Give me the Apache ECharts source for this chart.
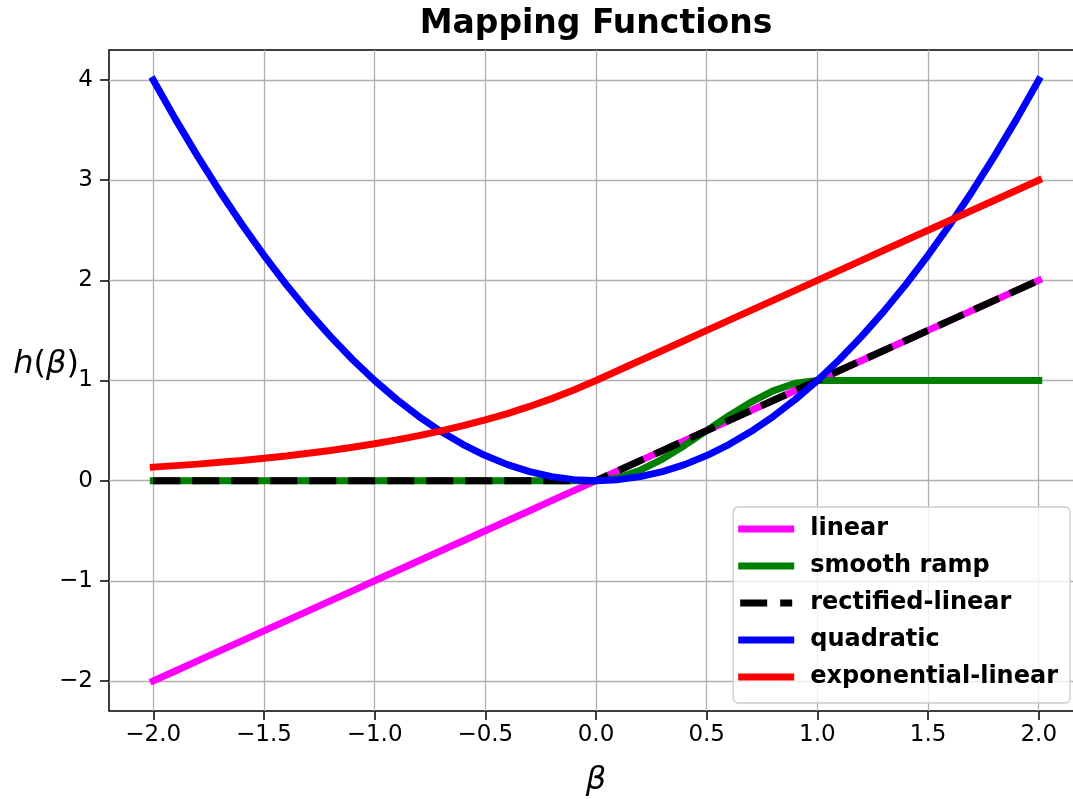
<!DOCTYPE html>
<html>
<head>
<meta charset="utf-8">
<title>Mapping Functions</title>
<script src="https://cdn.jsdelivr.net/npm/echarts@6/dist/echarts.min.js"></script>
<style>
  html, body { margin: 0; padding: 0; background: #fff; overflow: hidden; }
  #chart { width: 1100px; height: 799px; }
</style>
</head>
<body>
<div id="chart"></div>
<script>
// sample points along beta
const betas = [
  -2.0, -1.9, -1.8, -1.7, -1.6, -1.5, -1.4, -1.3, -1.2, -1.1,
  -1.0, -0.9, -0.8, -0.7, -0.6, -0.5, -0.4, -0.3, -0.2, -0.1,
  0.0, 0.1, 0.2, 0.3, 0.4, 0.5, 0.6, 0.7, 0.8, 0.9,
  1.0, 1.1, 1.2, 1.3, 1.4, 1.5, 1.6, 1.7, 1.8, 1.9, 2.0
];

const linearVals = [
  -2.0, -1.9, -1.8, -1.7, -1.6, -1.5, -1.4, -1.3, -1.2, -1.1,
  -1.0, -0.9, -0.8, -0.7, -0.6, -0.5, -0.4, -0.3, -0.2, -0.1,
  0.0, 0.1, 0.2, 0.3, 0.4, 0.5, 0.6, 0.7, 0.8, 0.9,
  1.0, 1.1, 1.2, 1.3, 1.4, 1.5, 1.6, 1.7, 1.8, 1.9, 2.0
];

const smoothRampVals = [
  0, 0, 0, 0, 0, 0, 0, 0, 0, 0,
  0, 0, 0, 0, 0, 0, 0, 0, 0, 0,
  0, 0.028, 0.104, 0.216, 0.352, 0.5, 0.648, 0.784, 0.896, 0.972,
  1, 1, 1, 1, 1, 1, 1, 1, 1, 1, 1
];

const rectifiedVals = [
  0, 0, 0, 0, 0, 0, 0, 0, 0, 0,
  0, 0, 0, 0, 0, 0, 0, 0, 0, 0,
  0.0, 0.1, 0.2, 0.3, 0.4, 0.5, 0.6, 0.7, 0.8, 0.9,
  1.0, 1.1, 1.2, 1.3, 1.4, 1.5, 1.6, 1.7, 1.8, 1.9, 2.0
];

const quadraticVals = [
  4.00, 3.61, 3.24, 2.89, 2.56, 2.25, 1.96, 1.69, 1.44, 1.21,
  1.00, 0.81, 0.64, 0.49, 0.36, 0.25, 0.16, 0.09, 0.04, 0.01,
  0.00, 0.01, 0.04, 0.09, 0.16, 0.25, 0.36, 0.49, 0.64, 0.81,
  1.00, 1.21, 1.44, 1.69, 1.96, 2.25, 2.56, 2.89, 3.24, 3.61, 4.00
];

const expLinearVals = [
  0.135, 0.150, 0.165, 0.183, 0.202, 0.223, 0.247, 0.273, 0.301, 0.333,
  0.368, 0.407, 0.449, 0.497, 0.549, 0.607, 0.670, 0.741, 0.819, 0.905,
  1.0, 1.1, 1.2, 1.3, 1.4, 1.5, 1.6, 1.7, 1.8, 1.9,
  2.0, 2.1, 2.2, 2.3, 2.4, 2.5, 2.6, 2.7, 2.8, 2.9, 3.0
];

const seriesNames = ["linear", "smooth ramp", "rectified-linear", "quadratic", "exponential-linear"];
const seriesColors = ["#ff00ff", "#008000", "#000000", "#0000ff", "#ff0000"];
const seriesVals = [linearVals, smoothRampVals, rectifiedVals, quadraticVals, expLinearVals];

const xTicks = [-2.0, -1.5, -1.0, -0.5, 0.0, 0.5, 1.0, 1.5, 2.0];
const yTicks = [-2, -1, 0, 1, 2, 3, 4];

const FONT = "DejaVu Sans";
const minus = (s) => s.replace("-", "\u2212");

// legend swatches: a thick bar, and a dash-gap-dash bar for the dashed line
const solidIcon = "path://M0,0H56V7H0Z";
const dashedIcon = "path://M0,0H27V7H0Z M40,0H52V7H40Z";

const chart = echarts.init(document.getElementById("chart"), null, { renderer: "canvas" });

const option = {
  animation: false,
  backgroundColor: "#ffffff",
  title: {
    text: "Mapping Functions",
    left: 596,
    textAlign: "center",
    top: 8,
    padding: 0,
    textStyle: { fontFamily: FONT, fontSize: 33, fontWeight: "bold", color: "#000" },
  },
  grid: {
    left: 109,
    right: 17,
    top: 50,
    bottom: 88,
    outerBoundsMode: "none",
    containLabel: false,
    show: true,
    borderColor: "#000",
    borderWidth: 1.5,
    backgroundColor: "transparent",
  },
  xAxis: {
    type: "value",
    min: -2.2,
    max: 2.2,
    splitNumber: 9,
    name: "\u03b2",
    nameLocation: "middle",
    nameGap: 54,
    nameMoveOverlap: false,
    nameTextStyle: { fontFamily: FONT, fontSize: 32, fontStyle: "italic", color: "#000" },
    axisLine: { show: false, onZero: false },
    axisTick: {
      show: true,
      inside: false,
      length: 9,
      customValues: xTicks,
      lineStyle: { color: "#000", width: 1.5 },
    },
    axisLabel: {
      customValues: xTicks,
      formatter: (v) => minus(v.toFixed(1)),
      fontFamily: FONT,
      fontSize: 23,
      color: "#000",
      margin: 13,
    },
    splitLine: { show: true, lineStyle: { color: "#b0b0b0", width: 1.3 } },
  },
  yAxis: {
    type: "value",
    min: -2.3,
    max: 4.3,
    splitNumber: 7,
    name: "{it|h}({it|\u03b2})",
    nameLocation: "middle",
    nameRotate: 0,
    nameGap: 30,
    nameMoveOverlap: false,
    nameTextStyle: {
      fontFamily: FONT,
      fontSize: 32,
      color: "#000",
      verticalAlign: "bottom",
      rich: {
        it: { fontFamily: FONT, fontSize: 32, fontStyle: "italic", color: "#000" },
      },
    },
    axisLine: { show: false, onZero: false },
    axisTick: {
      show: true,
      inside: false,
      length: 9,
      customValues: yTicks,
      lineStyle: { color: "#000", width: 1.5 },
    },
    axisLabel: {
      customValues: yTicks,
      formatter: (v) => minus(String(v)),
      fontFamily: FONT,
      fontSize: 23,
      color: "#000",
      margin: 16,
    },
    splitLine: { show: true, lineStyle: { color: "#b0b0b0", width: 1.3 } },
  },
  legend: {
    orient: "vertical",
    right: 30,
    top: 507,
    backgroundColor: "rgba(255,255,255,0.8)",
    borderColor: "#cccccc",
    borderWidth: 1.3,
    borderRadius: 5,
    padding: [10, 12, 14, 5],
    itemWidth: 56,
    itemHeight: 7,
    itemGap: 13,
    textStyle: {
      fontFamily: FONT,
      fontSize: 24,
      fontWeight: "bold",
      color: "#000",
      padding: [0, 0, 0, 11],
    },
    data: seriesNames.map((name) => ({
      name: name,
      icon: name === "rectified-linear" ? dashedIcon : solidIcon,
    })),
  },
  series: seriesNames.map((name, i) => ({
    name: name,
    type: "line",
    symbol: "none",
    color: seriesColors[i],
    z: 2 + i,
    data: betas.map((b, j) => [b, seriesVals[i][j]]),
    lineStyle: {
      color: seriesColors[i],
      width: 7,
      type: name === "rectified-linear" ? [27, 12] : "solid",
      cap: name === "rectified-linear" ? "butt" : "square",
    },
    emphasis: { disabled: true },
  })),
};

chart.setOption(option);
</script>
</body>
</html>
